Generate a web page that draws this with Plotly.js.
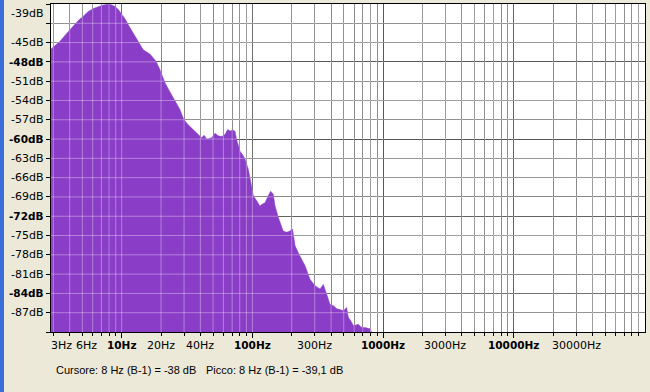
<!DOCTYPE html>
<html><head><meta charset="utf-8">
<script src="https://cdn.plot.ly/plotly-3.0.1.min.js"></script>
<style>html,body{margin:0;padding:0;background:#ECE9D8;overflow:hidden}#chart{width:650px;height:392px}</style>
</head><body><div id="chart"></div>
<script>
// Spectrum data (frequency in Hz, level in dB)
const freqHz = [2.88,3.09,3.37,3.75,4.27,4.63,5.08,5.52,6.07,6.59,7.23,7.86,8.3,8.9,9.46,10.0,10.6,11.2,12.1,13.0,14.6,16.5,18.3,19.6,21.4,23.0,24.8,26.5,27.9,29.4,30.5,32.7,35.3,37.7,40.9,42.7,44.7,46.6,48.8,51.8,54.8,58.2,61.6,64.7,67.5,70.6,73.6,75.6,80.4,84.7,87.7,93.1,98.9,101.7,107.9,114,119.4,125,132,138,144.5,149,158,167,172,183,194,203,212,231,253,276,301,329,349,370,392,417,442,468,496,526,542,567,592,621,646,685,727,794,823];
const levelDb = [-46.0,-45.4,-44.8,-43.7,-42.3,-41.6,-40.9,-40.2,-39.7,-39.4,-39.15,-39.05,-39.1,-39.4,-39.9,-40.6,-41.3,-42.2,-43.3,-44.5,-46.1,-46.8,-47.9,-49.2,-51.2,-52.4,-53.6,-54.6,-55.4,-56.6,-57.2,-57.9,-58.5,-59.1,-59.8,-59.4,-60.0,-59.9,-59.8,-59.1,-59.5,-59.6,-59.3,-58.5,-58.75,-58.6,-58.8,-60.0,-61.9,-62.5,-63.1,-64.7,-67.3,-68.8,-69.6,-70.4,-70.1,-69.9,-68.8,-68.1,-68.6,-70.4,-72.2,-73.8,-74.3,-74.5,-74.3,-74.0,-76.6,-78.2,-79.7,-81.8,-82.8,-83.3,-82.6,-84.1,-85.7,-85.9,-86.4,-86.5,-86.7,-86.2,-87.7,-88.3,-89.0,-88.9,-88.8,-89.3,-89.3,-89.5,-90.2];

const xTickValues = [3,6,10,20,40,100,300,1000,3000,10000,30000];
const xTickLabels = ['3Hz','6Hz','10Hz','20Hz','40Hz','100Hz','300Hz','1000Hz','3000Hz','10000Hz','30000Hz'];
const xMajorValues = [10,100,1000,10000];
const yTickValues = [-39,-45,-48,-51,-54,-57,-60,-63,-66,-69,-72,-75,-78,-81,-84,-87];
const yTickLabels = ['-39dB','-45dB','-48dB','-51dB','-54dB','-57dB','-60dB','-63dB','-66dB','-69dB','-72dB','-75dB','-78dB','-81dB','-84dB','-87dB'];
const yMajorValues = [-48,-60,-72,-84];
const statusCursor = 'Cursore: 8 Hz (B-1) = -38 dB';
const statusPeak = 'Picco: 8 Hz (B-1) = -39,1 dB';

// axis setup
const xLogRange = [0.459, 5.004];
const yRange = [-90, -39];
const FILL = '#8a3dc6';
const FONT = 'DejaVu Sans, Verdana, sans-serif';
const STATUS_FONT = 'Liberation Sans, Arial, sans-serif';

// grid positions
const xGridAll = [];
for (let d = 1; d <= 10000; d *= 10) for (let k = 1; k <= 9; k++) {
  const v = d * k, lv = Math.log10(v);
  if (lv > xLogRange[0] && lv < xLogRange[1] - 0.003) xGridAll.push(v);
}
const xMinor = xGridAll.filter(v => !xMajorValues.includes(v));
const yGridAll = [];
for (let v = -87; v <= -42; v += 3) yGridAll.push(v);
const yMinor = [-90, ...yGridAll, -39].filter(v => !yMajorValues.includes(v));

// light grid over the fill
const ovX = [], ovY = [];
const xMin = Math.pow(10, xLogRange[0]), xMax = Math.pow(10, xLogRange[1]);
xGridAll.forEach(v => { ovX.push(v, v, null); ovY.push(yRange[0], yRange[1], null); });
yGridAll.forEach(v => { ovX.push(xMin, xMax, null); ovY.push(v, v, null); });

const traces = [
  {x: [freqHz[0], freqHz[freqHz.length-1]], y: [-120, -120], mode: 'lines', line: {width: 0, color: FILL}, hoverinfo: 'skip', showlegend: false},
  {x: freqHz, y: levelDb, mode: 'lines', fill: 'tonexty', fillcolor: FILL, line: {width: 0.5, color: FILL}, showlegend: false},
  {x: ovX, y: ovY, mode: 'lines', line: {width: 1, color: 'rgba(255,255,255,0.35)'}, hoverinfo: 'skip', showlegend: false, connectgaps: false}
];

const annotations = [];
xTickValues.forEach((v, i) => {
  const major = xMajorValues.includes(v);
  let shift = 0;
  if (v === 3) shift = 8;
  if (v === 6) shift = -6;
  annotations.push({xref: 'x', yref: 'paper', x: Math.log10(v), y: 0, yanchor: 'top', xanchor: 'center',
    yshift: -5, xshift: shift, showarrow: false,
    text: major ? '<b>' + xTickLabels[i] + '</b>' : xTickLabels[i],
    font: {family: FONT, size: major ? 10.5 : 11, color: '#000'}});
});
yTickValues.forEach((v, i) => {
  const major = yMajorValues.includes(v);
  annotations.push({xref: 'paper', yref: 'y', x: 0, y: v, xanchor: 'right', yanchor: 'middle',
    xshift: -5, yshift: v === -39 ? -9 : 0, showarrow: false,
    text: major ? '<b>' + yTickLabels[i] + '</b>' : yTickLabels[i],
    font: {family: FONT, size: major ? 10.5 : 11, color: '#000'}});
});
annotations.push({xref: 'paper', yref: 'paper', x: 3/594, y: -38/328, xanchor: 'left', yanchor: 'middle', showarrow: false,
  text: statusCursor, font: {family: STATUS_FONT, size: 11, color: '#000'}});
annotations.push({xref: 'paper', yref: 'paper', x: 153/594, y: -38/328, xanchor: 'left', yanchor: 'middle', showarrow: false,
  text: statusPeak, font: {family: STATUS_FONT, size: 11, color: '#000'}});

const layout = {
  width: 650, height: 392,
  margin: {l: 51, r: 5, t: 4, b: 60, pad: 0},
  paper_bgcolor: '#ECE9D8', plot_bgcolor: '#ffffff',
  showlegend: false,
  xaxis: {type: 'log', range: xLogRange, showticklabels: false, tickvals: xMajorValues,
    ticks: 'outside', ticklen: 5, tickcolor: '#000', tickwidth: 1,
    showgrid: true, gridcolor: '#2e2e2e', gridwidth: 1,
    minor: {tickvals: xMinor, ticks: 'outside', ticklen: 3, tickcolor: '#000', showgrid: true, gridcolor: '#6c6c6c', gridwidth: 1},
    showline: true, linecolor: '#000', linewidth: 1, mirror: true, zeroline: false, fixedrange: true},
  yaxis: {range: yRange, showticklabels: false, tickvals: yMajorValues,
    ticks: 'outside', ticklen: 4, tickcolor: '#000', tickwidth: 1,
    showgrid: true, gridcolor: '#2e2e2e', gridwidth: 1,
    minor: {tickvals: yMinor, ticks: 'outside', ticklen: 4, tickcolor: '#000', showgrid: true, gridcolor: '#6c6c6c', gridwidth: 1},
    showline: true, linecolor: '#000', linewidth: 1, mirror: true, zeroline: false, fixedrange: true},
  shapes: [
    {type: 'rect', xref: 'paper', yref: 'paper', x0: -51/594, x1: -47/594, y0: -60/328, y1: 1 + 4/328,
      fillcolor: '#3a6ed8', line: {width: 0}, layer: 'above'}
  ],
  annotations: annotations,
  font: {family: FONT}
};

Plotly.newPlot('chart', traces, layout, {displayModeBar: false, staticPlot: true});
</script>
</body></html>
